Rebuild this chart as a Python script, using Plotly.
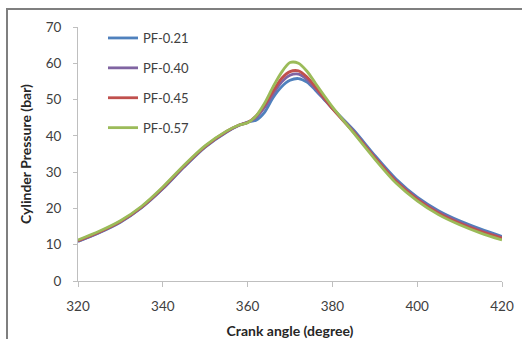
import plotly.graph_objects as go

angle = [320, 325, 330, 335, 340, 345, 350, 355, 358, 360, 362, 364, 366, 368, 370, 372, 374, 376, 378, 380, 385, 390, 395, 400, 405, 410, 415, 420]

pf021 = [10.9, 13.3, 16.2, 20.2, 25.4, 31.4, 36.9, 41.0, 42.9, 43.8, 44.3, 46.5, 50.5, 53.5, 55.3, 55.8, 54.8, 52.6, 50.1, 47.6, 41.6, 34.6, 28.1, 23.1, 19.4, 16.6, 14.3, 12.3]
pf040 = [11.0, 13.4, 16.3, 20.3, 25.5, 31.5, 37.0, 41.1, 42.9, 43.7, 45.0, 47.8, 51.5, 54.8, 56.7, 57.0, 55.5, 53.0, 50.2, 47.5, 41.3, 34.2, 27.7, 22.8, 19.0, 16.2, 13.9, 12.0]
pf045 = [11.1, 13.5, 16.4, 20.4, 25.7, 31.7, 37.1, 41.2, 43.0, 43.7, 45.5, 48.5, 52.3, 55.8, 57.7, 57.9, 56.2, 53.5, 50.5, 47.5, 41.0, 34.0, 27.4, 22.5, 18.7, 15.9, 13.6, 11.8]
pf057 = [11.3, 13.7, 16.6, 20.6, 25.9, 31.9, 37.3, 41.3, 43.0, 43.6, 45.5, 49.0, 53.5, 57.5, 60.2, 60.0, 57.8, 54.5, 51.2, 48.0, 40.8, 33.6, 27.0, 22.1, 18.3, 15.5, 13.2, 11.3]

names = ["PF-0.21", "PF-0.40", "PF-0.45", "PF-0.57"]
colors = ["#4F81BD", "#8064A2", "#C0504D", "#9BBB59"]
series = [pf021, pf040, pf045, pf057]

fig = go.Figure()
for i, (n, c, s) in enumerate(zip(names, colors, series)):
    fig.add_trace(go.Scatter(x=angle, y=s, mode="lines", name=n, legendgroup=n,
                             line=dict(color=c, width=2.8, shape="spline", smoothing=0.8)))

W, H = 522, 339
L, R, T, B = 78, 20, 27, 58
pw, ph = W - L - R, H - T - B

fig.update_layout(
    width=W, height=H,
    margin=dict(l=L, r=R, t=T, b=B, autoexpand=False),
    paper_bgcolor="white", plot_bgcolor="white",
    font=dict(family="Lato, Open Sans, sans-serif", size=13, color="#404040"),
    showlegend=True,
    legend=dict(x=(103 - L) / pw, y=1.0 + 4 / ph, xanchor="left", yanchor="top",
                bgcolor="rgba(0,0,0,0)", traceorder="grouped", tracegroupgap=10,
                font=dict(size=13, color="#404040")),
    xaxis=dict(range=[320, 420], tickvals=[320, 340, 360, 380, 400, 420], automargin=False,
               showgrid=False, zeroline=False, showline=True, linecolor="#BFBFBF", linewidth=1,
               ticks="outside", ticklen=5, tickcolor="#BFBFBF", ticklabelstandoff=8,
               tickfont=dict(size=13.5),
               title=dict(text="<b>Crank angle (degree)</b>", font=dict(size=14, color="#262626"), standoff=14)),
    yaxis=dict(range=[0, 70], tickvals=[0, 10, 20, 30, 40, 50, 60, 70], automargin=False,
               showgrid=False, zeroline=False, showline=True, linecolor="#BFBFBF", linewidth=1,
               ticks="outside", ticklen=4, tickcolor="#BFBFBF", ticklabelstandoff=9,
               tickfont=dict(size=13.5),
               title=dict(text="<b>Cylinder Pressure (bar)</b>", font=dict(size=14, color="#262626"), standoff=10)),
)

# outer frame of the chart (cropped): top and left borders
fig.add_shape(type="line", xref="paper", yref="paper",
              x0=(6 - L) / pw, x1=(W - L) / pw, y0=(H - B - 9) / ph, y1=(H - B - 9) / ph,
              line=dict(color="#7F7F7F", width=2))
fig.add_shape(type="line", xref="paper", yref="paper",
              x0=(7 - L) / pw, x1=(7 - L) / pw, y0=-(B) / ph, y1=(H - B - 9) / ph,
              line=dict(color="#7F7F7F", width=2))

fig.write_html("out.html")
